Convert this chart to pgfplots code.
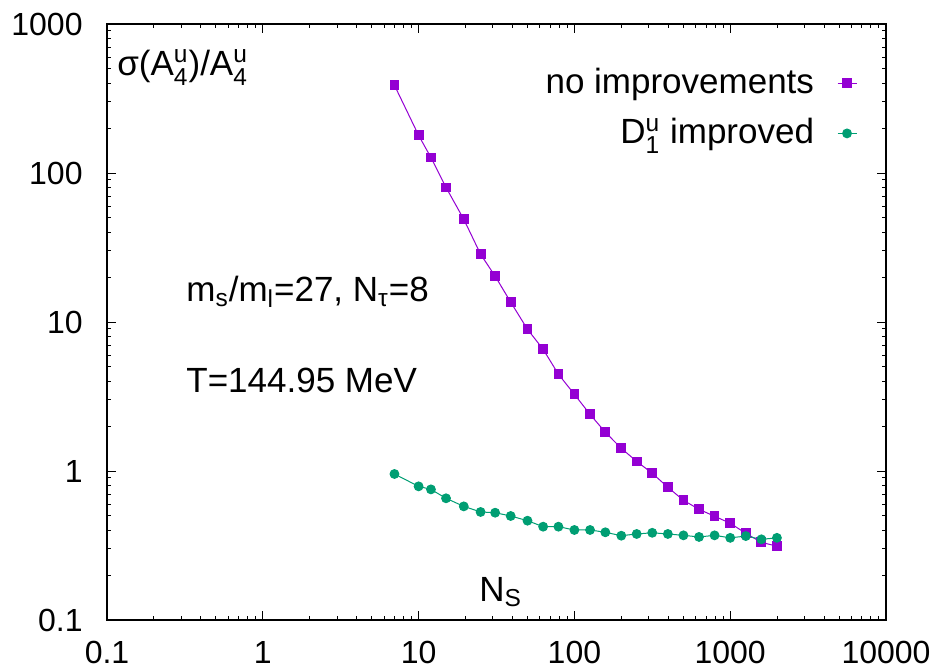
\documentclass[border=0pt]{standalone}
\usepackage{amsmath}
\usepackage{fontspec}
\setmainfont{Liberation Sans}
\usepackage{pgfplots}
\pgfplotsset{compat=1.18}
\definecolor{cpurple}{HTML}{9400D3}
\definecolor{cgreen}{HTML}{009E73}
\pgfplotstableread{
x y
7 388
10 179
12 127
15 80
19.5 48.9
25 28.5
31 20.3
39 13.6
50 8.93
63 6.56
79 4.46
100 3.27
126 2.40
158 1.82
200 1.42
251 1.16
316 0.966
398 0.778
501 0.636
631 0.553
794 0.497
1000 0.446
1259 0.382
1585 0.332
1995 0.313
}\noimp
\pgfplotstableread{
x y
7 0.955
10 0.789
12 0.753
15 0.656
19.5 0.579
25 0.531
31 0.525
39 0.499
50 0.464
63 0.423
79 0.423
100 0.402
126 0.402
158 0.388
200 0.368
251 0.378
316 0.385
398 0.378
501 0.370
631 0.361
794 0.370
1000 0.356
1259 0.366
1585 0.348
1995 0.356
}\dimp
\newcommand{\lfont}{\fontsize{17.5}{21}\selectfont}
\begin{document}
\fontsize{16}{19}\selectfont
\begin{tikzpicture}
\begin{axis}[
  name=ax,
  xmode=log, ymode=log,
  scale only axis,
  width=389.5pt, height=298pt,
  xmin=0.1, xmax=10000, ymin=0.1, ymax=1000,
  xtick={0.1,1,10,100,1000,10000},
  xticklabels={0.1,1,10,100,1000,10000},
  ytick={0.1,1,10,100,1000},
  yticklabels={0.1,1,10,100,1000},
  minor xtick={0.2,0.3,0.4,0.5,0.6,0.7,0.8,0.9,2,3,4,5,6,7,8,9,20,30,40,50,60,70,80,90,200,300,400,500,600,700,800,900,2000,3000,4000,5000,6000,7000,8000,9000},
  minor ytick={0.2,0.3,0.4,0.5,0.6,0.7,0.8,0.9,2,3,4,5,6,7,8,9,20,30,40,50,60,70,80,90,200,300,400,500,600,700,800,900},
  tick align=inside,
  major tick length=4.5pt,
  minor tick length=2pt,
  tick style={black, line width=0.5pt},
  axis line style={black, line width=0.6pt},
  /pgf/number format/assume math mode=true,
  ticklabel style={font=\fontsize{16}{19}\selectfont},
  yticklabel style={inner sep=0pt, xshift=-12pt},
  xticklabel style={inner sep=0pt, yshift=-10.5pt},
  legend plot pos=right,
  legend cell align=right,
  legend style={draw=none, fill=none, inner sep=0pt, outer sep=0pt,
    at={(rel axis cs:0.9628,0.926)}, anchor=north east,
    row sep=10pt, column sep=11.5pt,
    nodes={inner sep=0pt},
    font=\lfont},
  legend image code/.code={\draw[mark repeat=2,mark phase=2,#1] plot coordinates {(0pt,0pt) (4.75pt,0pt) (9.5pt,0pt)};},
]
\addplot[cpurple, line width=0.5pt, mark=square*, mark size=2.2pt, mark options={solid}] table[x=x,y=y] {\noimp};
\addlegendentry{no improvements}
\addplot[cgreen, line width=0.5pt, mark=*, mark size=2.2pt, mark options={solid}] table[x=x,y=y] {\dimp};
\addlegendentry{D$^{\text{u}}_{\text{1}}$ improved}
\node[anchor=base west, inner sep=0pt, font=\lfont] at (rel axis cs:0.0128,0.914) {σ(A$^{\text{u}}_{\text{4}}$)/A$^{\text{u}}_{\text{4}}$};
\node[anchor=base west, inner sep=0pt, font=\lfont] at (rel axis cs:0.1014,0.534) {m$_{\text{s}}$/m$_{\text{l}}$=27, N$_{\text{τ}}$=8};
\node[anchor=base west, inner sep=0pt, font=\lfont] at (rel axis cs:0.1014,0.381) {T=144.95 MeV};
\node[anchor=base west, inner sep=0pt, font=\lfont] at (rel axis cs:0.4775,0.0307) {N$_{\text{S}}$};
\end{axis}
\pgfresetboundingbox
\path[use as bounding box] (ax.south west) ++(-53.5pt,-25.5pt) rectangle ++(470.5pt,335.5pt);
\end{tikzpicture}
\end{document}
